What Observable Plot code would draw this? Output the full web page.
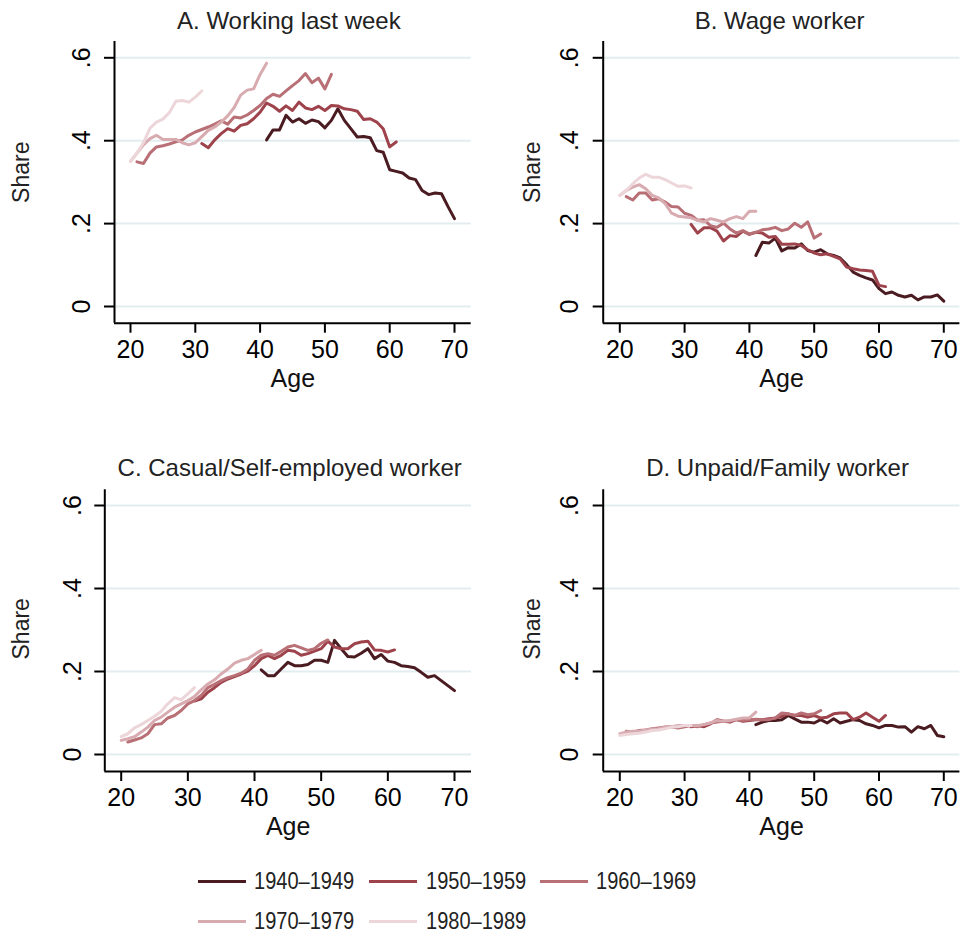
<!DOCTYPE html>
<html>
<head>
<meta charset="utf-8">
<script src="https://cdn.jsdelivr.net/npm/d3@7"></script>
<script src="https://cdn.jsdelivr.net/npm/@observablehq/plot@0.6"></script>
<style>
  body { margin: 0; background: #ffffff; font-family: "Liberation Sans", Arial, sans-serif; }
  #wrap { position: relative; width: 964px; height: 936px; overflow: hidden; background: #fff; }
  .panel { position: absolute; }
  .panel svg { overflow: visible; }
  .leg-line { position: absolute; height: 3px; }
  .leg-text { position: absolute; font-size: 23px; color: #222; line-height: 23px; white-space: nowrap;
              transform: scale(0.87, 1); transform-origin: 0 50%; }
</style>
</head>
<body>
<div id="wrap"></div>
<script>
// ---------------- data ----------------
const cohorts = ["1940–1949", "1950–1959", "1960–1969", "1970–1979", "1980–1989"];
const cohortColors = ["#4a1b21", "#9e434b", "#b86f75", "#d8abb0", "#edd6d9"];

const ages1940 = [41,42,43,44,45,46,47,48,49,50,51,52,53,54,55,56,57,58,59,60,61,62,63,64,65,66,67,68,69,70];
const ages1950 = [31,32,33,34,35,36,37,38,39,40,41,42,43,44,45,46,47,48,49,50,51,52,53,54,55,56,57,58,59,60,61];
const ages1960 = [21,22,23,24,25,26,27,28,29,30,31,32,33,34,35,36,37,38,39,40,41,42,43,44,45,46,47,48,49,50,51];
const ages1970 = [20,21,22,23,24,25,26,27,28,29,30,31,32,33,34,35,36,37,38,39,40,41];
const ages1980 = [20,21,22,23,24,25,26,27,28,29,30,31];

// A. Working last week
const workA1940 = [.402,.426,.426,.461,.445,.453,.442,.450,.446,.431,.449,.477,.449,.429,.409,.410,.407,.376,.372,.330,.326,.322,.310,.306,.280,.270,.274,.272,.241,.212];
const workA1950 = [.393,.383,.402,.417,.429,.423,.437,.441,.453,.469,.491,.483,.471,.484,.473,.493,.479,.475,.483,.473,.485,.484,.477,.475,.471,.451,.453,.445,.429,.385,.397];
const workA1960 = [.349,.345,.370,.385,.388,.392,.397,.402,.413,.421,.427,.433,.440,.448,.440,.457,.455,.462,.473,.485,.502,.512,.507,.520,.533,.545,.562,.540,.551,.525,.560];
const workA1970 = [.350,.370,.390,.405,.413,.403,.403,.403,.395,.390,.395,.410,.425,.433,.445,.460,.480,.510,.522,.525,.560,.587];
const workA1980 = [.350,.370,.395,.430,.445,.452,.468,.495,.497,.493,.505,.520];

// B. Wage worker
const wageB1940 = [.123,.155,.153,.165,.134,.142,.141,.151,.135,.131,.137,.127,.123,.117,.101,.083,.075,.069,.064,.043,.031,.035,.027,.023,.027,.016,.023,.023,.028,.013];
const wageB1950 = [.198,.177,.190,.190,.182,.158,.171,.169,.182,.174,.179,.177,.167,.169,.150,.150,.151,.147,.137,.129,.125,.127,.121,.115,.095,.091,.088,.087,.085,.051,.048];
const wageB1960 = [.265,.257,.274,.274,.257,.260,.252,.241,.240,.225,.220,.208,.209,.195,.191,.201,.187,.177,.183,.175,.179,.185,.187,.191,.183,.187,.201,.191,.204,.165,.175];
const wageB1970 = [.268,.280,.288,.294,.284,.268,.262,.248,.225,.218,.216,.214,.208,.204,.212,.208,.204,.212,.217,.212,.230,.230];
const wageB1980 = [.268,.280,.296,.310,.319,.312,.312,.306,.298,.290,.291,.286];

// C. Casual/Self-employed worker
const casC1940 = [.204,.190,.190,.206,.222,.214,.214,.217,.227,.227,.222,.275,.255,.236,.235,.244,.255,.231,.241,.225,.222,.214,.212,.209,.198,.186,.190,.178,.166,.154];
const casC1950 = [.129,.134,.150,.161,.174,.182,.188,.194,.201,.214,.231,.239,.231,.239,.251,.249,.239,.243,.249,.255,.273,.259,.255,.255,.267,.271,.273,.252,.251,.247,.252];
const casC1960 = [.030,.035,.040,.050,.072,.074,.088,.094,.106,.122,.130,.142,.161,.169,.178,.185,.190,.196,.206,.227,.239,.243,.239,.249,.259,.263,.257,.251,.255,.268,.276];
const casC1970 = [.034,.038,.043,.054,.066,.082,.090,.102,.114,.122,.130,.140,.156,.170,.180,.194,.206,.220,.227,.231,.241,.251];
const casC1980 = [.043,.050,.064,.072,.082,.092,.104,.122,.137,.132,.146,.161];

// D. Unpaid/Family worker
const famD1940 = [.072,.078,.082,.082,.084,.094,.086,.078,.078,.076,.084,.076,.086,.076,.080,.084,.082,.074,.070,.064,.070,.070,.066,.067,.054,.067,.062,.070,.046,.043];
const famD1950 = [.067,.070,.067,.074,.084,.080,.078,.084,.080,.082,.084,.084,.086,.088,.092,.098,.094,.094,.090,.094,.088,.090,.098,.100,.100,.084,.090,.100,.090,.080,.094];
const famD1960 = [.056,.054,.058,.059,.062,.064,.066,.067,.064,.067,.070,.067,.072,.076,.078,.080,.080,.084,.082,.084,.085,.084,.084,.088,.100,.098,.094,.100,.096,.098,.106];
const famD1970 = [.050,.054,.056,.056,.059,.061,.062,.066,.067,.070,.070,.070,.070,.072,.076,.082,.080,.082,.085,.088,.088,.102];
const famD1980 = [.046,.048,.050,.051,.054,.058,.059,.062,.066,.067,.070,.070];

const xTicks = [20, 30, 40, 50, 60, 70];
const yTicks = [0, 0.2, 0.4, 0.6];
const panelTitles = ["A. Working last week", "B. Wage worker", "C. Casual/Self-employed worker", "D. Unpaid/Family worker"];
const xLabel = "Age";
const yLabel = "Share";

const cohortAges = [ages1940, ages1950, ages1960, ages1970, ages1980];
const panelSeries = [
  [workA1940, workA1950, workA1960, workA1970, workA1980],
  [wageB1940, wageB1950, wageB1960, wageB1970, wageB1980],
  [casC1940, casC1950, casC1960, casC1970, casC1980],
  [famD1940, famD1950, famD1960, famD1970, famD1980]
];

// ---------------- layout (page pixels) ----------------
const layouts = [
  {left: 0,   top: 0,   w: 482, h: 400, fl: 114,   fr: 470.7, ft: 41,    fb: 322.7, x20: 130,   x70: 454,   y0: 306, y6: 57.3,
   titleY: 21, titleDx: -4, shareX: 21, shareY: 171.7, tickX: 81, ageY: 378},
  {left: 482, top: 0,   w: 482, h: 400, fl: 602.7, fr: 959.4, ft: 41,    fb: 322.7, x20: 619.3, x70: 943.3, y0: 306, y6: 57.3,
   titleY: 21, titleDx: -2, shareX: 532, shareY: 171.7, tickX: 569, ageY: 378},
  {left: 0,   top: 440, w: 482, h: 420, fl: 104.3, fr: 471,   ft: 489.3, fb: 771,   x20: 120.7, x70: 454,   y0: 754, y6: 505,
   titleY: 468.3, titleDx: 1.5, shareX: 21, shareY: 628.3, tickX: 72, ageY: 826.7},
  {left: 482, top: 440, w: 482, h: 420, fl: 602.7, fr: 959.4, ft: 489.3, fb: 771,   x20: 619.3, x70: 943.3, y0: 754, y6: 505,
   titleY: 468.3, titleDx: -4, shareX: 532, shareY: 628.3, tickX: 569, ageY: 826.7}
];

const fmtY = d => d === 0 ? "0" : d3.format(".1f")(d).replace(/^0/, "");
const FONT = "'Liberation Sans', Arial, sans-serif";

const wrap = document.getElementById("wrap");

panelSeries.forEach((series, pi) => {
  const L = layouts[pi];
  const kx = (L.x70 - L.x20) / 50;
  const ky = (L.y0 - L.y6) / 0.6;
  const xDomain = [20 + (L.fl - L.x20) / kx, 20 + (L.fr - L.x20) / kx];
  const yDomain = [(L.y0 - L.fb) / ky, (L.y0 - L.ft) / ky];
  const frameMidY = (L.ft + L.fb) / 2;

  const lineMarks = series.map((vals, ci) => {
    const rows = vals.map((v, i) => ({age: cohortAges[ci][i], share: v, cohort: cohorts[ci]}));
    return Plot.line(rows, {x: "age", y: "share", stroke: "cohort", strokeWidth: 3, strokeLinejoin: "round"});
  });

  const chart = Plot.plot({
    width: L.w,
    height: L.h,
    marginLeft: L.fl - L.left,
    marginRight: L.left + L.w - L.fr,
    marginTop: L.ft - L.top,
    marginBottom: L.top + L.h - L.fb,
    x: {domain: xDomain},
    y: {domain: yDomain},
    color: {domain: cohorts, range: cohortColors},
    style: {fontFamily: FONT, background: "transparent", color: "#000", overflow: "visible"},
    marks: [
      Plot.gridY(yTicks, {stroke: "#e3edef", strokeOpacity: 1, strokeWidth: 2}),
      Plot.axisY(yTicks, {tickSize: 10, tickFormat: () => "", label: null, strokeWidth: 2, stroke: "#000"}),
      Plot.axisX(xTicks, {tickSize: 10, tickPadding: 7, fontSize: 25, label: null, strokeWidth: 2, stroke: "#000", fill: "#000"}),
      Plot.text(yTicks, {y: d => d, frameAnchor: "left", dx: L.tickX - L.fl, rotate: -90, text: fmtY,
        textAnchor: "middle", lineAnchor: "middle", fontSize: 25, fill: "#000"}),
      Plot.ruleX([xDomain[0]], {stroke: "#000", strokeWidth: 2}),
      Plot.ruleY([yDomain[0]], {stroke: "#000", strokeWidth: 2}),
      ...lineMarks,
      Plot.text([panelTitles[pi]], {frameAnchor: "top", dx: L.titleDx, dy: L.titleY - L.ft,
        textAnchor: "middle", lineAnchor: "middle", fontSize: 24, fill: "#222"}),
      Plot.text([xLabel], {frameAnchor: "bottom", dy: L.ageY - L.fb,
        textAnchor: "middle", lineAnchor: "middle", fontSize: 25, fill: "#111"}),
      Plot.text([yLabel], {frameAnchor: "left", dx: L.shareX - L.fl, dy: L.shareY - frameMidY, rotate: -90,
        textAnchor: "middle", lineAnchor: "middle", fontSize: 23, fill: "#222"})
    ]
  });
  const div = document.createElement("div");
  div.className = "panel";
  div.style.left = L.left + "px";
  div.style.top = L.top + "px";
  div.appendChild(chart);
  wrap.appendChild(div);
});

// ---------------- legend ----------------
const legendPos = [
  {lx: 198, tx: 254, y: 881},
  {lx: 369, tx: 426, y: 881},
  {lx: 540, tx: 596, y: 881},
  {lx: 198, tx: 254, y: 921.7},
  {lx: 369, tx: 426, y: 921.7}
];
cohorts.forEach((c, i) => {
  const p = legendPos[i];
  const ln = document.createElement("div");
  ln.className = "leg-line";
  ln.style.left = p.lx + "px";
  ln.style.width = "48px";
  ln.style.top = (p.y - 1.5) + "px";
  ln.style.background = cohortColors[i];
  wrap.appendChild(ln);
  const tx = document.createElement("div");
  tx.className = "leg-text";
  tx.style.left = p.tx + "px";
  tx.style.top = (p.y - 11.5) + "px";
  tx.textContent = c;
  wrap.appendChild(tx);
});
</script>
</body>
</html>
